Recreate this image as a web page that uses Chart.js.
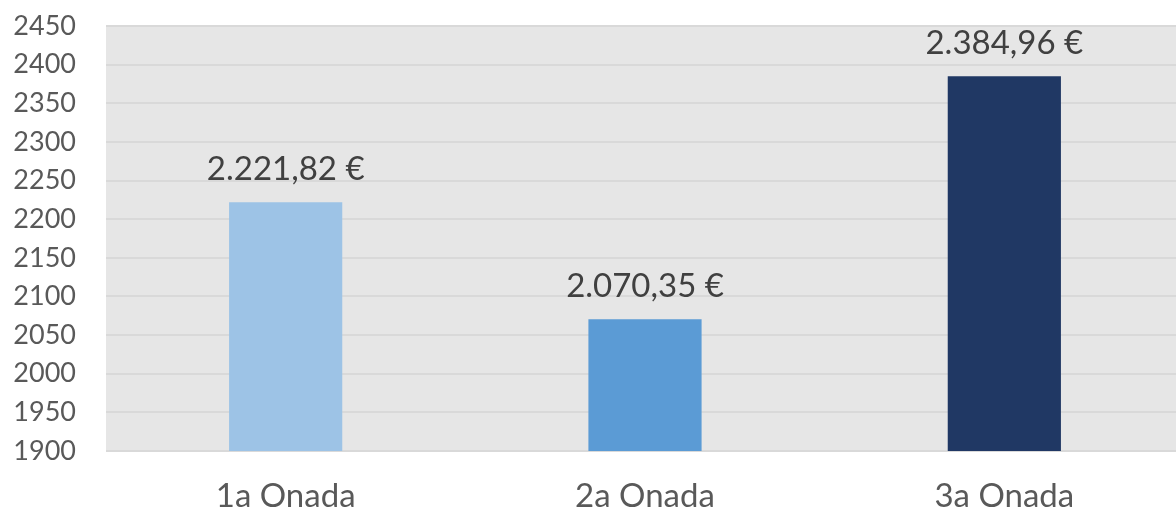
<!DOCTYPE html>
<html><head><meta charset="utf-8">
<script src="https://cdn.jsdelivr.net/npm/chart.js@4"></script>
<style>html,body{margin:0;padding:0;background:#fff;overflow:hidden;}#wrap{width:1184px;height:514px;}</style>
</head><body><div id="wrap"><canvas id="c"></canvas></div>
<script>
const categories = ['1a Onada', '2a Onada', '3a Onada'];
const values = [2221.82, 2070.35, 2384.96];
const valueLabels = ['2.221,82 €', '2.070,35 €', '2.384,96 €'];
const barColors = ['#9DC3E6', '#5B9BD5', '#203864'];
const yMin = 1900, yMax = 2450, yStep = 50;

const FONT = 'Lato, "Open Sans", sans-serif';

const bgPlugin = {
  id: 'bg',
  beforeDraw(chart) {
    const {ctx, chartArea: a} = chart;
    ctx.save();
    ctx.fillStyle = '#E6E6E6';
    ctx.fillRect(a.left, a.top, a.right - a.left, a.bottom - a.top);
    ctx.restore();
  }
};
const labelPlugin = {
  id: 'vlabels',
  afterDatasetsDraw(chart) {
    const {ctx} = chart;
    const meta = chart.getDatasetMeta(0);
    ctx.save();
    ctx.fillStyle = '#404040';
    ctx.font = '33px ' + FONT;
    ctx.textAlign = 'center';
    ctx.textBaseline = 'middle';
    meta.data.forEach((bar, i) => {
      ctx.fillText(valueLabels[i], bar.x, bar.y - 33);
    });
    ctx.restore();
  }
};

new Chart(document.getElementById('c'), {
  type: 'bar',
  data: {
    labels: categories,
    datasets: [{
      data: values,
      backgroundColor: barColors,
      barPercentage: 0.315,
      categoryPercentage: 1
    }]
  },
  options: {
    responsive: true,
    maintainAspectRatio: false,
    animation: false,
    layout: {padding: {top: 26, left: 0, right: 0, bottom: 0}},
    plugins: {legend: {display: false}, tooltip: {enabled: false}},
    scales: {
      y: {
        min: yMin, max: yMax,
        ticks: {stepSize: yStep, autoSkip: false, color: '#595959', font: {family: FONT, size: 27}, padding: 30,
                callback: v => String(v)},
        grid: {color: '#D9D9D9', lineWidth: 2, drawTicks: false},
        border: {display: false},
        afterFit(s) { s.width = 106; s.paddingTop = 0; s.paddingBottom = 0; }
      },
      x: {
        ticks: {color: '#595959', font: {family: FONT, size: 33}, padding: 26},
        grid: {display: false, drawTicks: false},
        border: {display: false},
        afterFit(s) { s.height = 63; }
      }
    }
  },
  plugins: [bgPlugin, labelPlugin]
});
</script></body></html>
